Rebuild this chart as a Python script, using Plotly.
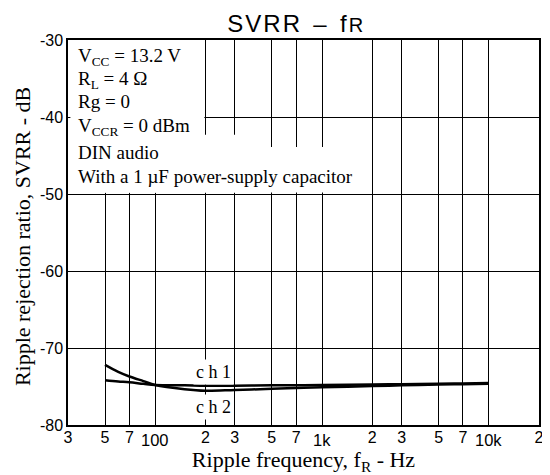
import math
import plotly.graph_objects as go

# ---- data ----
freq_ch1 = [50, 60, 70, 85, 100, 150, 200, 300, 500, 700, 1000, 2000, 3000, 5000, 7000, 10000]
svrr_ch1 = [-74.2, -74.35, -74.45, -74.65, -74.8, -74.85, -74.9, -74.9, -74.85, -74.85, -74.8, -74.75, -74.7, -74.65, -74.6, -74.55]
freq_ch2 = [50, 60, 70, 85, 100, 150, 200, 300, 500, 700, 1000, 2000, 3000, 5000, 7000, 10000]
svrr_ch2 = [-72.2, -73.1, -73.7, -74.3, -74.8, -75.35, -75.55, -75.45, -75.3, -75.2, -75.1, -74.95, -74.85, -74.75, -74.7, -74.65]

x_tickvals = [30, 50, 70, 100, 200, 300, 500, 700, 1000, 2000, 3000, 5000, 7000, 10000, 20000]
x_ticktext = ["3", "5", "7", "", "2", "3", "5", "7", "", "2", "3", "5", "7", "", "2"]
decade_vals = [100, 1000, 10000]
decade_text = ["100", "1k", "10k"]
y_tickvals = [-80, -70, -60, -50, -40, -30]
y_ticktext = ["-80", "-70", "-60", "-50", "-40", "-30"]

cond_text = ["V<sub>CC</sub> = 13.2 V", "R<sub>L</sub> = 4 Ω", "Rg = 0",
             "V<sub>CCR</sub> = 0 dBm", "DIN audio", "With a 1 µF power-supply capacitor"]
cond_y = [-30.4, -33.4, -36.35, -39.5, -43.0, -46.05]
cond_x = 33.5

label_text = ["c h 1", "c h 2"]
label_x = [225, 225]
label_y = [-73.1, -77.7]

SERIF = "Liberation Serif, Times New Roman, serif"
SANS = "Liberation Sans, Arial, sans-serif"
HS = "\u200a"

fig = go.Figure()
fig.add_trace(go.Scatter(x=freq_ch1, y=svrr_ch1, mode="lines", name="ch1",
                         line=dict(color="black", width=2.5, shape="spline")))
fig.add_trace(go.Scatter(x=freq_ch2, y=svrr_ch2, mode="lines", name="ch2",
                         line=dict(color="black", width=2.5, shape="spline")))

# white areas behind condition text (cover gridlines)
for x1, y1 in [(197, -30), (420, -42.3), (1450, -43.9)]:
    fig.add_shape(type="rect", xref="x", yref="y", x0=31, x1=x1, y0=-49.8, y1=y1,
                  fillcolor="white", line=dict(width=0), layer="between")

for t, yv in zip(cond_text, cond_y):
    fig.add_annotation(x=math.log10(cond_x), xref="x", y=yv, yref="y", text=t, showarrow=False,
                       xanchor="left", yanchor="top",
                       font=dict(family=SERIF, size=19, color="black"))

for v, t in zip(decade_vals, decade_text):
    fig.add_annotation(x=math.log10(v), xref="x", y=0, yref="paper", text=t, showarrow=False,
                       xanchor="center", yanchor="top", yshift=-4,
                       font=dict(family=SANS, size=16.5, color="black"))

for t, xv, yv in zip(label_text, label_x, label_y):
    fig.add_annotation(x=math.log10(xv), xref="x", y=yv, yref="y", text=t, showarrow=False,
                       bgcolor="white", borderpad=2,
                       font=dict(family=SERIF, size=18, color="black"))

# y-axis title
fig.add_annotation(x=0, xref="paper", xshift=-46, y=0.488, yref="paper",
                   text="Ripple rejection ratio, SVRR - dB", textangle=-90, showarrow=False,
                   xanchor="center", yanchor="middle", borderpad=0,
                   font=dict(family=SERIF, size=22, color="black"))

title_text = HS.join("SVRR") + "  –  f" + HS + "<span style='font-size:20px'>R</span>"

fig.update_layout(
    width=542, height=467,
    margin=dict(l=60, r=6, t=32, b=50),
    paper_bgcolor="white", plot_bgcolor="white",
    showlegend=False,
    title=dict(text=title_text, x=0.53, xanchor="center",
               y=0.966, yanchor="middle",
               font=dict(family=SANS, size=24, color="black")),
    xaxis=dict(type="log", range=[1.4771, 4.30103], tickvals=x_tickvals, ticktext=x_ticktext,
               showgrid=True, gridcolor="black", gridwidth=1.2, showline=True, linecolor="black",
               linewidth=1.5, mirror=True, ticks="", zeroline=False, ticklabelstandoff=-3,
               tickfont=dict(family=SANS, size=16, color="black"),
               title=dict(text="Ripple frequency, f<sub>R</sub> - Hz", standoff=7,
                          font=dict(family=SERIF, size=22, color="black"))),
    yaxis=dict(range=[-80, -30], tickvals=y_tickvals, ticktext=y_ticktext,
               showgrid=True, gridcolor="black", gridwidth=1.2, showline=True, linecolor="black",
               linewidth=1.5, mirror=True, ticks="", zeroline=False,
               tickfont=dict(family=SANS, size=16, color="black")),
)

fig.write_html("out.html")
